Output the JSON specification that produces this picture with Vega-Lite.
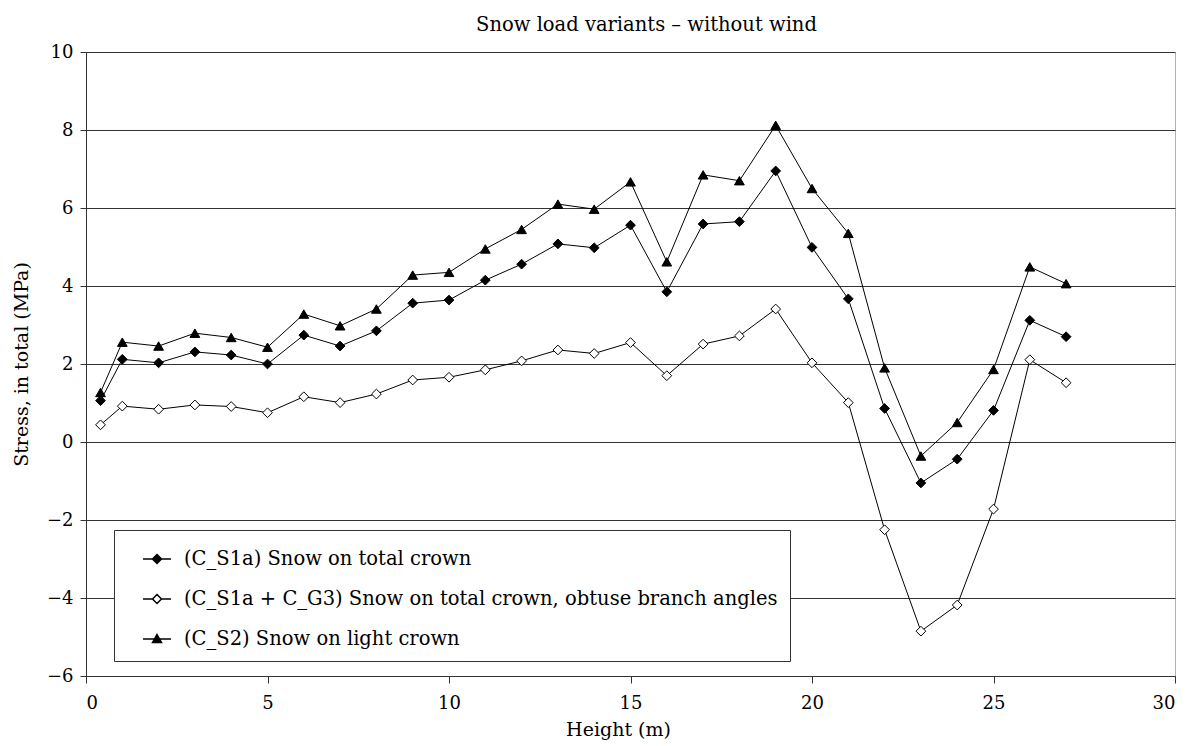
{
  "$schema": "https://vega.github.io/schema/vega-lite/v6.json",
  "width": 1089,
  "height": 624,
  "autosize": "none",
  "padding": {"left": 86, "top": 52, "right": 22, "bottom": 70},
  "title": {"text": "Snow load variants – without wind", "font": "DejaVu Serif", "fontSize": 19.5, "fontWeight": "normal", "color": "black", "offset": 8, "anchor": "middle", "dx": 16},
  "config": {
    "view": {"stroke": "#b0b0b0"},
    "font": "DejaVu Serif"
  },
  "datasets": {
    "pts": [
      {"x": 0.4, "s": "(C_S1a) Snow on total crown", "y": 1.06},
      {"x": 1, "s": "(C_S1a) Snow on total crown", "y": 2.12},
      {"x": 2, "s": "(C_S1a) Snow on total crown", "y": 2.03},
      {"x": 3, "s": "(C_S1a) Snow on total crown", "y": 2.31},
      {"x": 4, "s": "(C_S1a) Snow on total crown", "y": 2.23},
      {"x": 5, "s": "(C_S1a) Snow on total crown", "y": 2.0},
      {"x": 6, "s": "(C_S1a) Snow on total crown", "y": 2.74},
      {"x": 7, "s": "(C_S1a) Snow on total crown", "y": 2.46},
      {"x": 8, "s": "(C_S1a) Snow on total crown", "y": 2.85},
      {"x": 9, "s": "(C_S1a) Snow on total crown", "y": 3.56},
      {"x": 10, "s": "(C_S1a) Snow on total crown", "y": 3.64},
      {"x": 11, "s": "(C_S1a) Snow on total crown", "y": 4.15},
      {"x": 12, "s": "(C_S1a) Snow on total crown", "y": 4.56},
      {"x": 13, "s": "(C_S1a) Snow on total crown", "y": 5.08},
      {"x": 14, "s": "(C_S1a) Snow on total crown", "y": 4.98},
      {"x": 15, "s": "(C_S1a) Snow on total crown", "y": 5.56},
      {"x": 16, "s": "(C_S1a) Snow on total crown", "y": 3.85},
      {"x": 17, "s": "(C_S1a) Snow on total crown", "y": 5.59},
      {"x": 18, "s": "(C_S1a) Snow on total crown", "y": 5.65},
      {"x": 19, "s": "(C_S1a) Snow on total crown", "y": 6.95},
      {"x": 20, "s": "(C_S1a) Snow on total crown", "y": 4.99},
      {"x": 21, "s": "(C_S1a) Snow on total crown", "y": 3.67},
      {"x": 22, "s": "(C_S1a) Snow on total crown", "y": 0.86},
      {"x": 23, "s": "(C_S1a) Snow on total crown", "y": -1.05},
      {"x": 24, "s": "(C_S1a) Snow on total crown", "y": -0.44},
      {"x": 25, "s": "(C_S1a) Snow on total crown", "y": 0.81},
      {"x": 26, "s": "(C_S1a) Snow on total crown", "y": 3.12},
      {"x": 27, "s": "(C_S1a) Snow on total crown", "y": 2.70},
      {"x": 0.4, "s": "(C_S1a + C_G3) Snow on total crown, obtuse branch angles", "y": 0.44},
      {"x": 1, "s": "(C_S1a + C_G3) Snow on total crown, obtuse branch angles", "y": 0.92},
      {"x": 2, "s": "(C_S1a + C_G3) Snow on total crown, obtuse branch angles", "y": 0.84},
      {"x": 3, "s": "(C_S1a + C_G3) Snow on total crown, obtuse branch angles", "y": 0.95},
      {"x": 4, "s": "(C_S1a + C_G3) Snow on total crown, obtuse branch angles", "y": 0.91},
      {"x": 5, "s": "(C_S1a + C_G3) Snow on total crown, obtuse branch angles", "y": 0.75},
      {"x": 6, "s": "(C_S1a + C_G3) Snow on total crown, obtuse branch angles", "y": 1.16},
      {"x": 7, "s": "(C_S1a + C_G3) Snow on total crown, obtuse branch angles", "y": 1.01},
      {"x": 8, "s": "(C_S1a + C_G3) Snow on total crown, obtuse branch angles", "y": 1.23},
      {"x": 9, "s": "(C_S1a + C_G3) Snow on total crown, obtuse branch angles", "y": 1.59},
      {"x": 10, "s": "(C_S1a + C_G3) Snow on total crown, obtuse branch angles", "y": 1.66},
      {"x": 11, "s": "(C_S1a + C_G3) Snow on total crown, obtuse branch angles", "y": 1.85},
      {"x": 12, "s": "(C_S1a + C_G3) Snow on total crown, obtuse branch angles", "y": 2.08},
      {"x": 13, "s": "(C_S1a + C_G3) Snow on total crown, obtuse branch angles", "y": 2.36},
      {"x": 14, "s": "(C_S1a + C_G3) Snow on total crown, obtuse branch angles", "y": 2.27},
      {"x": 15, "s": "(C_S1a + C_G3) Snow on total crown, obtuse branch angles", "y": 2.55},
      {"x": 16, "s": "(C_S1a + C_G3) Snow on total crown, obtuse branch angles", "y": 1.70},
      {"x": 17, "s": "(C_S1a + C_G3) Snow on total crown, obtuse branch angles", "y": 2.51},
      {"x": 18, "s": "(C_S1a + C_G3) Snow on total crown, obtuse branch angles", "y": 2.72},
      {"x": 19, "s": "(C_S1a + C_G3) Snow on total crown, obtuse branch angles", "y": 3.41},
      {"x": 20, "s": "(C_S1a + C_G3) Snow on total crown, obtuse branch angles", "y": 2.03},
      {"x": 21, "s": "(C_S1a + C_G3) Snow on total crown, obtuse branch angles", "y": 1.01},
      {"x": 22, "s": "(C_S1a + C_G3) Snow on total crown, obtuse branch angles", "y": -2.25},
      {"x": 23, "s": "(C_S1a + C_G3) Snow on total crown, obtuse branch angles", "y": -4.85},
      {"x": 24, "s": "(C_S1a + C_G3) Snow on total crown, obtuse branch angles", "y": -4.18},
      {"x": 25, "s": "(C_S1a + C_G3) Snow on total crown, obtuse branch angles", "y": -1.72},
      {"x": 26, "s": "(C_S1a + C_G3) Snow on total crown, obtuse branch angles", "y": 2.11},
      {"x": 27, "s": "(C_S1a + C_G3) Snow on total crown, obtuse branch angles", "y": 1.52},
      {"x": 0.4, "s": "(C_S2) Snow on light crown", "y": 1.27},
      {"x": 1, "s": "(C_S2) Snow on light crown", "y": 2.56},
      {"x": 2, "s": "(C_S2) Snow on light crown", "y": 2.46},
      {"x": 3, "s": "(C_S2) Snow on light crown", "y": 2.79},
      {"x": 4, "s": "(C_S2) Snow on light crown", "y": 2.68},
      {"x": 5, "s": "(C_S2) Snow on light crown", "y": 2.43},
      {"x": 6, "s": "(C_S2) Snow on light crown", "y": 3.28},
      {"x": 7, "s": "(C_S2) Snow on light crown", "y": 2.98},
      {"x": 8, "s": "(C_S2) Snow on light crown", "y": 3.41},
      {"x": 9, "s": "(C_S2) Snow on light crown", "y": 4.28},
      {"x": 10, "s": "(C_S2) Snow on light crown", "y": 4.35},
      {"x": 11, "s": "(C_S2) Snow on light crown", "y": 4.95},
      {"x": 12, "s": "(C_S2) Snow on light crown", "y": 5.45},
      {"x": 13, "s": "(C_S2) Snow on light crown", "y": 6.10},
      {"x": 14, "s": "(C_S2) Snow on light crown", "y": 5.97},
      {"x": 15, "s": "(C_S2) Snow on light crown", "y": 6.67},
      {"x": 16, "s": "(C_S2) Snow on light crown", "y": 4.62},
      {"x": 17, "s": "(C_S2) Snow on light crown", "y": 6.85},
      {"x": 18, "s": "(C_S2) Snow on light crown", "y": 6.70},
      {"x": 19, "s": "(C_S2) Snow on light crown", "y": 8.12},
      {"x": 20, "s": "(C_S2) Snow on light crown", "y": 6.50},
      {"x": 21, "s": "(C_S2) Snow on light crown", "y": 5.35},
      {"x": 22, "s": "(C_S2) Snow on light crown", "y": 1.90},
      {"x": 23, "s": "(C_S2) Snow on light crown", "y": -0.36},
      {"x": 24, "s": "(C_S2) Snow on light crown", "y": 0.50},
      {"x": 25, "s": "(C_S2) Snow on light crown", "y": 1.86},
      {"x": 26, "s": "(C_S2) Snow on light crown", "y": 4.49},
      {"x": 27, "s": "(C_S2) Snow on light crown", "y": 4.06}
    ]
  },
  "data": {"name": "pts"},
  "encoding": {
    "x": {"field": "x", "type": "quantitative", "scale": {"domain": [0, 30], "nice": false, "zero": false},
      "axis": {"values": [0, 5, 10, 15, 20, 25, 30], "grid": false, "domainColor": "#333", "tickColor": "#333", "tickSize": 7, "labelFontSize": 18, "labelColor": "black", "labelPadding": 11, "labelFont": "DejaVu Serif",
        "title": "Height (m)", "titleFont": "DejaVu Serif", "titleFontSize": 19, "titleFontWeight": "normal", "titleColor": "black", "titlePadding": 8, "titleX": 532}},
    "y": {"field": "y", "type": "quantitative", "scale": {"domain": [-6, 10], "nice": false, "zero": false},
      "axis": {"values": [-6, -4, -2, 0, 2, 4, 6, 8, 10], "grid": true, "gridColor": "#333", "gridWidth": 1, "domainColor": "#333", "tickColor": "#333", "tickSize": 6, "labelFontSize": 18, "labelColor": "black", "labelPadding": 7, "labelFont": "DejaVu Serif",
        "title": "Stress, in total (MPa)", "titleFont": "DejaVu Serif", "titleFontSize": 19, "titleFontWeight": "normal", "titleColor": "black", "titlePadding": 15}}
  },
  "layer": [
    {
      "mark": {"type": "line", "color": "black", "strokeWidth": 1},
      "encoding": {"detail": {"field": "s"}}
    },
    {
      "mark": {"type": "point", "filled": true, "stroke": "black", "strokeWidth": 1, "size": 95, "opacity": 1},
      "encoding": {
        "shape": {"field": "s", "type": "nominal", "scale": {"domain": ["(C_S1a) Snow on total crown", "(C_S1a + C_G3) Snow on total crown, obtuse branch angles", "(C_S2) Snow on light crown"], "range": ["diamond", "diamond", "triangle-up"]}, "legend": null},
        "fill": {"field": "s", "type": "nominal", "scale": {"domain": ["(C_S1a) Snow on total crown", "(C_S1a + C_G3) Snow on total crown, obtuse branch angles", "(C_S2) Snow on light crown"], "range": ["black", "white", "black"]}, "legend": null}
      }
    },
    {
      "mark": {"type": "point", "filled": true, "stroke": "black", "strokeWidth": 1, "size": 1024, "opacity": 0},
      "encoding": {
        "shape": {"field": "s", "type": "nominal", "scale": {"domain": ["(C_S1a) Snow on total crown", "(C_S1a + C_G3) Snow on total crown, obtuse branch angles", "(C_S2) Snow on light crown"], "range": ["M0,0L1.75,0M0.875,-0.28L1.155,0L0.875,0.28L0.595,0Z", "M0,0L0.595,0M1.155,0L1.75,0M0.875,-0.28L1.155,0L0.875,0.28L0.595,0Z", "M0,0L1.75,0M0.875,-0.28L1.155,0.22L0.595,0.22Z"]},
          "legend": {"orient": "none", "legendX": 28, "legendY": 478, "title": null, "strokeColor": "#333", "fillColor": "white", "padding": 12, "rowPadding": 13, "symbolSize": 1024, "symbolOpacity": 1, "labelFont": "DejaVu Serif", "labelFontSize": 19.5, "labelColor": "black", "labelOffset": 24, "labelLimit": 0, "labelExpr": "datum.label + '\u00a0\u00a0\u00a0\u00a0\u00a0\u00a0\u00a0\u00a0\u00a0\u00a0\u00a0\u00a0'",
            "encode": {"symbols": {"update": {"stroke": {"value": "black"}, "strokeWidth": {"value": 1}, "opacity": {"value": 1}}}}}},
        "fill": {"field": "s", "type": "nominal", "scale": {"domain": ["(C_S1a) Snow on total crown", "(C_S1a + C_G3) Snow on total crown, obtuse branch angles", "(C_S2) Snow on light crown"], "range": ["black", "white", "black"]},
          "legend": {"orient": "none", "legendX": 28, "legendY": 478, "title": null, "strokeColor": "#333", "fillColor": "white", "padding": 12, "rowPadding": 13, "symbolSize": 1024, "symbolOpacity": 1, "labelFont": "DejaVu Serif", "labelFontSize": 19.5, "labelColor": "black", "labelOffset": 24, "labelLimit": 0, "labelExpr": "datum.label + '\u00a0\u00a0\u00a0\u00a0\u00a0\u00a0\u00a0\u00a0\u00a0\u00a0\u00a0\u00a0'",
            "encode": {"symbols": {"update": {"stroke": {"value": "black"}, "strokeWidth": {"value": 1}, "opacity": {"value": 1}}}}}}
      }
    }
  ],
  "resolve": {"scale": {"shape": "independent", "fill": "independent"}}
}
